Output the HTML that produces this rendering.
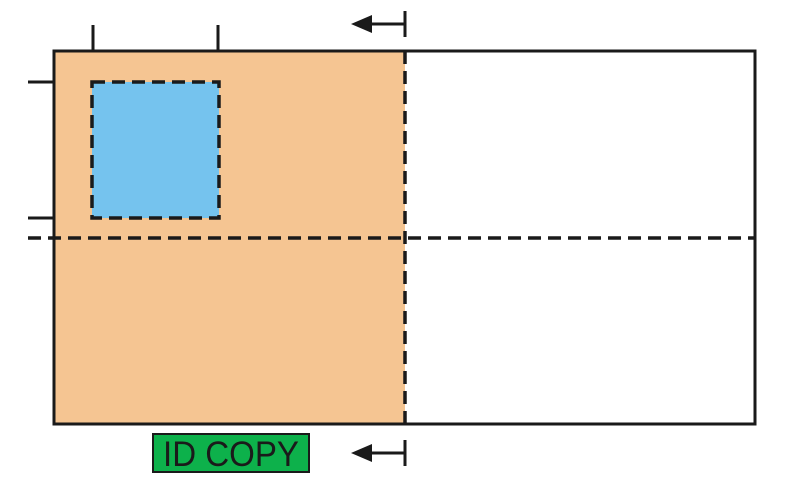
<!DOCTYPE html>
<html><head><meta charset="utf-8"><style>
html,body{margin:0;padding:0;background:#fff;width:804px;height:484px;overflow:hidden}
</style></head><body>
<svg width="804" height="484" viewBox="0 0 804 484">
<rect x="54" y="51" width="351" height="373" fill="#F5C592"/>
<rect x="92" y="82" width="127" height="136" fill="#75C3EE" stroke="#1a1a1a" stroke-width="3.5" stroke-dasharray="13 7"/>
<rect x="54" y="51" width="701" height="373" fill="none" stroke="#1a1a1a" stroke-width="3"/>
<line x1="405" y1="51" x2="405" y2="424" stroke="#1a1a1a" stroke-width="3.5" stroke-dasharray="13 7"/>
<line x1="28" y1="238" x2="755" y2="238" stroke="#1a1a1a" stroke-width="3.5" stroke-dasharray="13 7"/>
<g stroke="#1a1a1a" stroke-width="3">
<line x1="93" y1="25" x2="93" y2="51"/><line x1="218" y1="25" x2="218" y2="51"/>
<line x1="28" y1="82" x2="54" y2="82"/><line x1="28" y1="218" x2="54" y2="218"/>
</g>
<g>
<line x1="405" y1="11" x2="405" y2="37" stroke="#1a1a1a" stroke-width="3"/>
<line x1="365" y1="24" x2="405" y2="24" stroke="#1a1a1a" stroke-width="3"/>
<polygon points="351,24 372,15 372,33" fill="#1a1a1a"/>
</g>
<g>
<line x1="405" y1="440" x2="405" y2="466" stroke="#1a1a1a" stroke-width="3"/>
<line x1="365" y1="453" x2="405" y2="453" stroke="#1a1a1a" stroke-width="3"/>
<polygon points="351,453 372,444 372,462" fill="#1a1a1a"/>
</g>
<g>
<rect x="153" y="434" width="156" height="38" fill="#0DB14B" stroke="#1a1a1a" stroke-width="2"/>
<text x="163" y="466" textLength="136" lengthAdjust="spacingAndGlyphs" font-family="Liberation Sans, sans-serif" font-size="35" fill="#1a1a1a">ID COPY</text>
</g>
</svg>
</body></html>
